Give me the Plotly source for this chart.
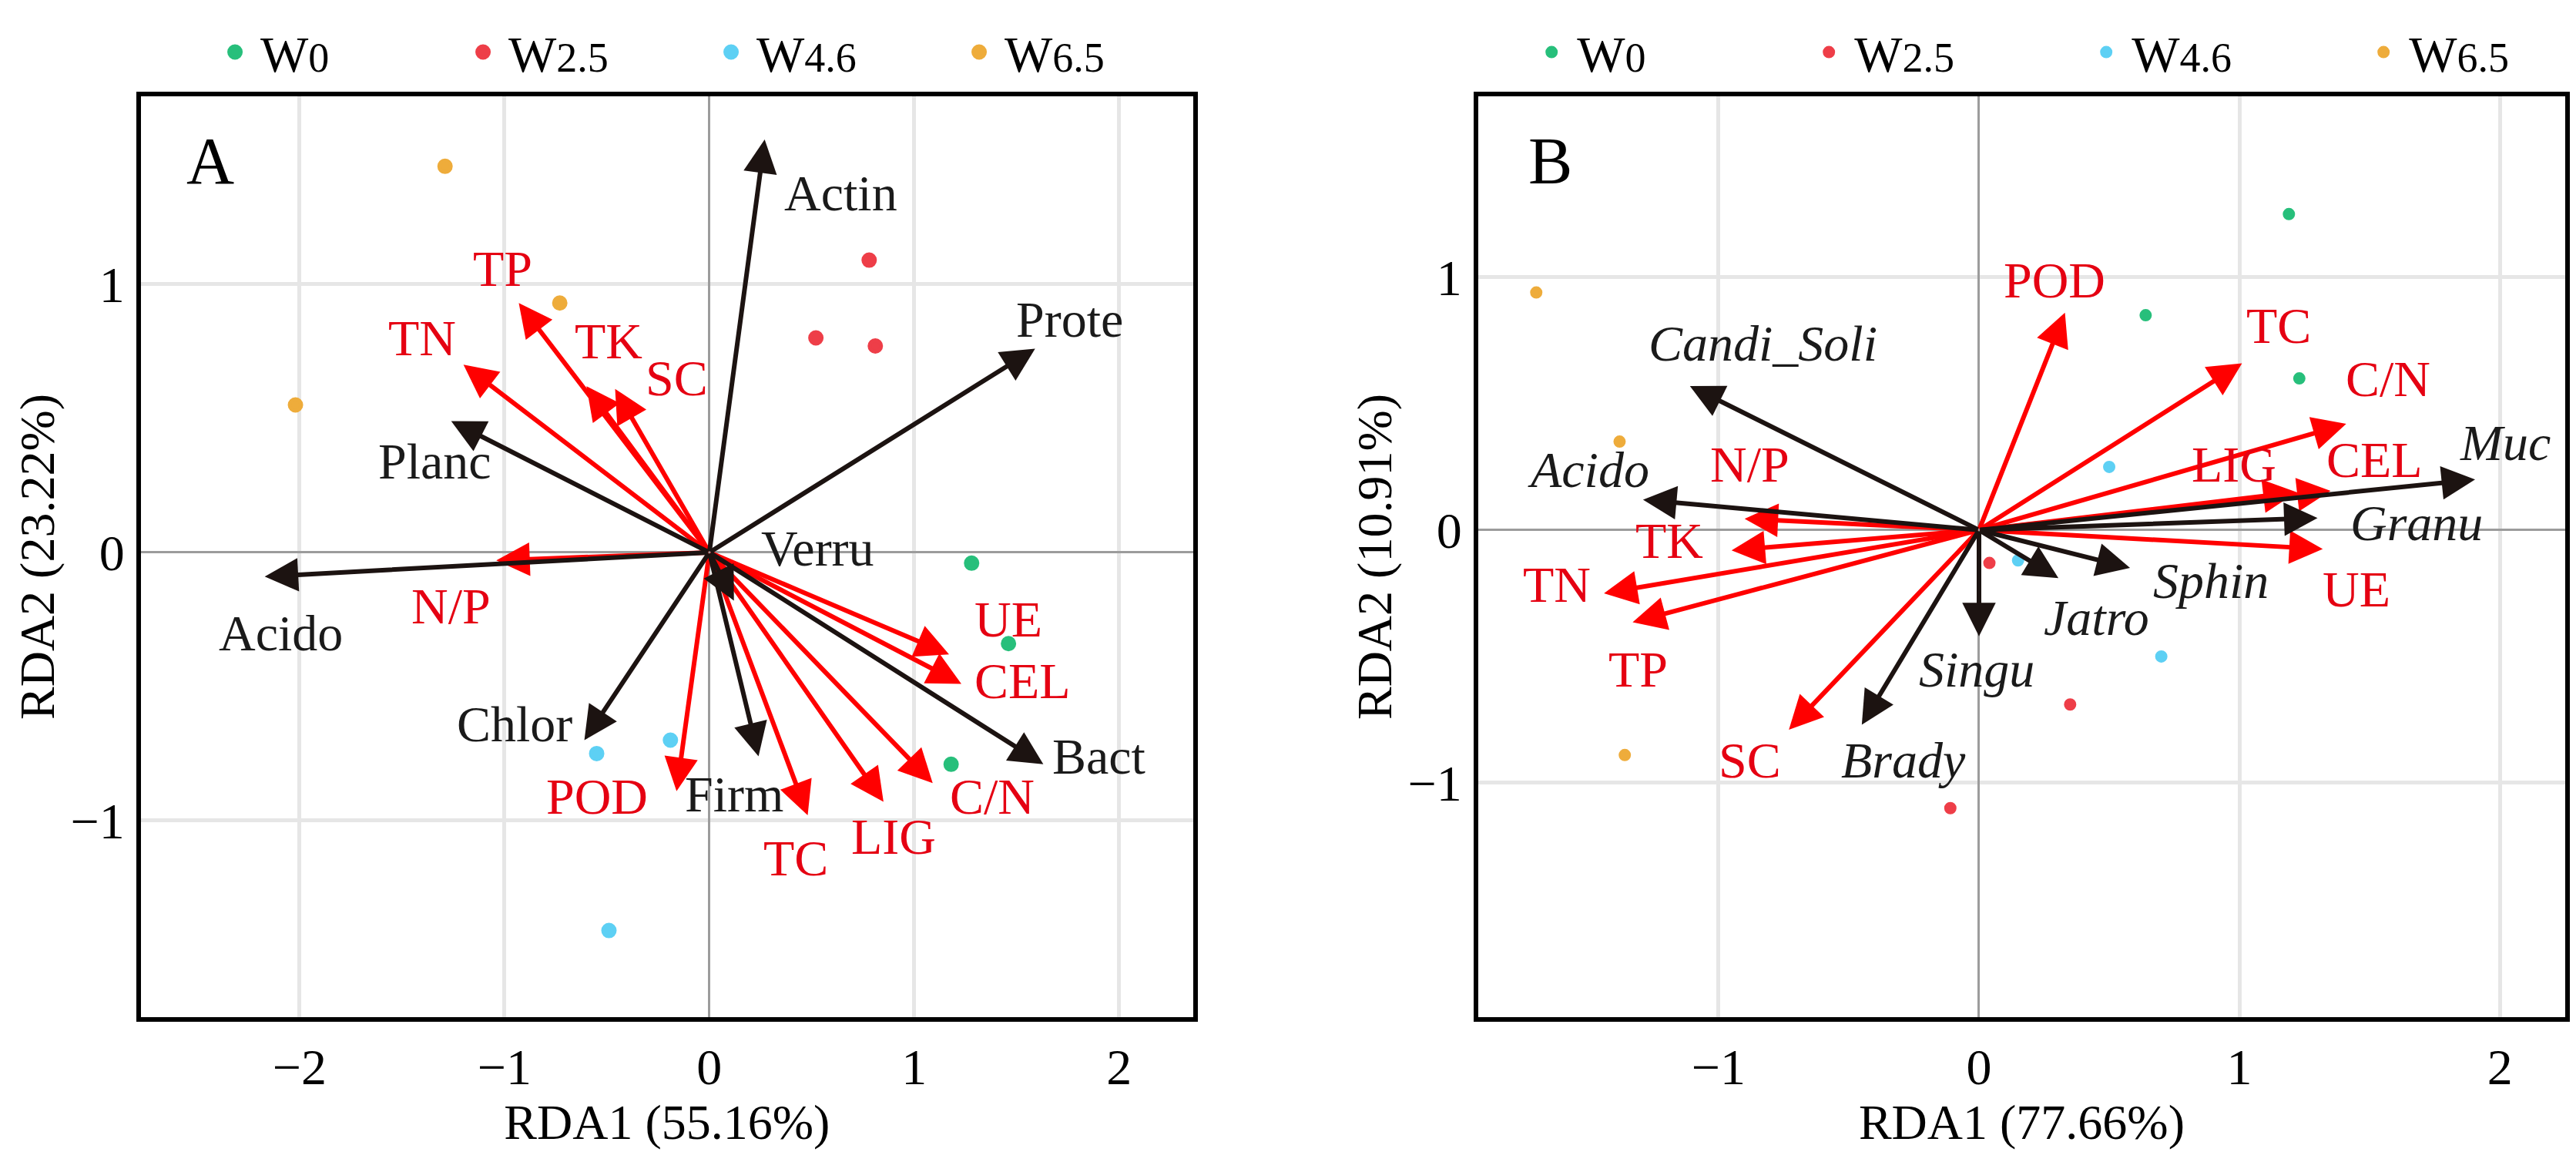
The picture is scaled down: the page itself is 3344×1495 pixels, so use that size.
import plotly.graph_objects as go

FONT = "Liberation Serif"

# ---------------- groups (legend) ----------------
group_main = ["W", "W", "W", "W"]
group_sub = ["0", "2.5", "4.6", "6.5"]
group_colors = ["#27bf7b", "#ee3e48", "#5dd0f4", "#eeac3b"]

# ---------------- Panel A : sample scores ----------------
A_W0_x = [1.28, 1.46, 1.18]
A_W0_y = [-0.04, -0.34, -0.79]
A_W25_x = [0.78, 0.52, 0.81]
A_W25_y = [1.09, 0.80, 0.77]
A_W46_x = [-0.19, -0.55, -0.49]
A_W46_y = [-0.70, -0.75, -1.41]
A_W65_x = [-1.29, -0.73, -2.02]
A_W65_y = [1.44, 0.93, 0.55]

# Panel A : environmental vectors (red)
A_env_names = ["TP", "TN", "TK", "SC", "N/P", "POD", "TC", "LIG", "C/N", "CEL", "UE"]
A_env_x = [-0.93, -1.20, -0.60, -0.46, -1.04, -0.16, 0.48, 0.85, 1.09, 1.23, 1.17]
A_env_y = [0.93, 0.70, 0.62, 0.61, -0.03, -0.89, -0.98, -0.93, -0.86, -0.49, -0.38]
A_env_label_x = [-1.01, -1.40, -0.49, -0.16, -1.26, -0.55, 0.42, 0.90, 1.38, 1.53, 1.46]
A_env_label_y = [1.06, 0.80, 0.79, 0.65, -0.20, -0.91, -1.14, -1.06, -0.91, -0.48, -0.25]

# Panel A : species vectors (black)
A_sp_names = ["Actin", "Prote", "Planc", "Acido", "Chlor", "Firm", "Verru", "Bact"]
A_sp_x = [0.27, 1.59, -1.26, -2.17, -0.61, 0.24, 0.12, 1.63]
A_sp_y = [1.54, 0.76, 0.49, -0.09, -0.70, -0.76, -0.18, -0.79]
A_sp_label_x = [0.64, 1.76, -1.34, -2.09, -0.95, 0.12, 0.53, 1.90]
A_sp_label_y = [1.34, 0.87, 0.34, -0.30, -0.64, -0.90, 0.015, -0.76]

# ---------------- Panel B : sample scores ----------------
B_W0_x = [1.19, 0.64, 1.23]
B_W0_y = [1.25, 0.85, 0.60]
B_W25_x = [0.04, 0.35, -0.11]
B_W25_y = [-0.13, -0.69, -1.10]
B_W46_x = [0.50, 0.15, 0.70]
B_W46_y = [0.25, -0.12, -0.50]
B_W65_x = [-1.70, -1.38, -1.36]
B_W65_y = [0.94, 0.35, -0.89]

# Panel B : environmental vectors (red)
B_env_names = ["POD", "TC", "C/N", "LIG", "CEL", "UE", "N/P", "TK", "TN", "TP", "SC"]
B_env_x = [0.33, 1.01, 1.41, 1.22, 1.35, 1.32, -0.90, -0.95, -1.44, -1.33, -0.73]
B_env_y = [0.86, 0.66, 0.42, 0.15, 0.155, -0.075, 0.045, -0.08, -0.25, -0.365, -0.79]
B_env_label_x = [0.29, 1.15, 1.57, 0.98, 1.52, 1.45, -0.88, -1.19, -1.62, -1.31, -0.88]
B_env_label_y = [0.99, 0.81, 0.60, 0.26, 0.28, -0.235, 0.26, -0.04, -0.215, -0.55, -0.91]

# Panel B : species vectors (black, italic)
B_sp_names = ["Candi_Soli", "Acido", "Muc", "Granu", "Sphin", "Jatro", "Singu", "Brady"]
B_sp_x = [-1.11, -1.29, 1.905, 1.30, 0.58, 0.305, 0.0, -0.45]
B_sp_y = [0.57, 0.12, 0.20, 0.048, -0.15, -0.19, -0.42, -0.77]
B_sp_label_x = [-0.83, -1.50, 2.02, 1.68, 0.89, 0.45, -0.01, -0.29]
B_sp_label_y = [0.74, 0.24, 0.345, 0.03, -0.20, -0.345, -0.55, -0.91]

# axis texts
A_xtitle, A_ytitle = "RDA1 (55.16%)", "RDA2 (23.22%)"
B_xtitle, B_ytitle = "RDA1 (77.66%)", "RDA2 (10.91%)"

RED_ARROW = "#ff0000"
RED_TEXT = "#e50012"
BLACK_ARROW = "#1c1311"
BLACK_TEXT = "#1a1a1a"

group_labels = ['%s<span style="font-size:54px">%s</span>' % (m, s)
                for m, s in zip(group_main, group_sub)]

fig = go.Figure()

A_sets = [(A_W0_x, A_W0_y), (A_W25_x, A_W25_y), (A_W46_x, A_W46_y), (A_W65_x, A_W65_y)]
B_sets = [(B_W0_x, B_W0_y), (B_W25_x, B_W25_y), (B_W46_x, B_W46_y), (B_W65_x, B_W65_y)]

for (xs, ys), name, col in zip(A_sets, group_labels, group_colors):
    fig.add_trace(go.Scatter(x=xs, y=ys, mode="markers", name=name, xaxis="x", yaxis="y",
                             legend="legend",
                             marker=dict(color=col, size=15, line=dict(color=col, width=5))))
for (xs, ys), name, col in zip(B_sets, group_labels, group_colors):
    fig.add_trace(go.Scatter(x=xs, y=ys, mode="markers", name=name, xaxis="x2", yaxis="y2",
                             legend="legend2",
                             marker=dict(color=col, size=11, line=dict(color=col, width=5))))

ann = []


def arrows(xs, ys, xr, yr, color, width):
    for x, y in zip(xs, ys):
        ann.append(dict(x=x, y=y, ax=0, ay=0, xref=xr, yref=yr, axref=xr, ayref=yr,
                        text="", showarrow=True, arrowhead=2, arrowsize=1.45,
                        arrowwidth=width, arrowcolor=color))


def labels(names, xs, ys, xr, yr, color, italic=False):
    for n, x, y in zip(names, xs, ys):
        t = "<i>%s</i>" % n if italic else n
        ann.append(dict(x=x, y=y, xref=xr, yref=yr, text=t, showarrow=False,
                        xanchor="center", yanchor="middle",
                        font=dict(family=FONT, size=66, color=color)))


arrows(A_env_x, A_env_y, "x", "y", RED_ARROW, 6)
arrows(A_sp_x, A_sp_y, "x", "y", BLACK_ARROW, 6)
arrows(B_env_x, B_env_y, "x2", "y2", RED_ARROW, 6)
arrows(B_sp_x, B_sp_y, "x2", "y2", BLACK_ARROW, 6)
labels(A_env_names, A_env_label_x, A_env_label_y, "x", "y", RED_TEXT)
labels(A_sp_names, A_sp_label_x, A_sp_label_y, "x", "y", BLACK_TEXT)
labels(B_env_names, B_env_label_x, B_env_label_y, "x2", "y2", RED_TEXT)
labels(B_sp_names, B_sp_label_x, B_sp_label_y, "x2", "y2", BLACK_TEXT, italic=True)

ann.append(dict(x=0.066, y=0.93, xref="x domain", yref="y domain", text="A", showarrow=False,
                xanchor="center", yanchor="middle", font=dict(family=FONT, size=86, color="black")))
ann.append(dict(x=0.066, y=0.93, xref="x2 domain", yref="y2 domain", text="B", showarrow=False,
                xanchor="center", yanchor="middle", font=dict(family=FONT, size=86, color="black")))

axis_common = dict(
    showline=True, mirror=True, linecolor="black", linewidth=6,
    showgrid=True, gridcolor="#e6e6e6", gridwidth=5,
    zeroline=True, zerolinecolor="#9c9c9c", zerolinewidth=3,
    ticks="", dtick=1, tick0=0,
    tickfont=dict(family=FONT, size=66, color="black"),
    ticklabelstandoff=2,
)

legend_common = dict(orientation="h", yanchor="middle", xanchor="left", y=1.048,
                     font=dict(family=FONT, size=66, color="black"),
                     entrywidthmode="pixels", itemwidth=56,
                     bgcolor="rgba(0,0,0,0)", itemclick=False)

title_font = dict(family=FONT, size=64)

fig.update_layout(
    width=3344, height=1495,
    margin=dict(l=175, r=22, t=117, b=183, autoexpand=False),
    paper_bgcolor="white", plot_bgcolor="white",
    font=dict(family=FONT, color="black"),
    annotations=ann,
    xaxis=dict(domain=[0, 0.434], range=[-2.774, 2.361], anchor="y",
               title=dict(text=A_xtitle, font=title_font, standoff=0), **axis_common),
    yaxis=dict(domain=[0, 1], range=[-1.733, 1.701], anchor="x",
               title=dict(text=A_ytitle, font=title_font, standoff=2), **axis_common),
    xaxis2=dict(domain=[0.5516, 1], range=[-1.923, 2.251], anchor="y2",
                title=dict(text=B_xtitle, font=title_font, standoff=0), **axis_common),
    yaxis2=dict(domain=[0, 1], range=[-1.927, 1.716], anchor="x2",
                title=dict(text=B_ytitle, font=title_font, standoff=2), **axis_common),
    legend=dict(x=0.0283, entrywidth=251, **legend_common),
    legend2=dict(x=0.5714, entrywidth=289, **legend_common),
)

fig.write_html("out.html")
